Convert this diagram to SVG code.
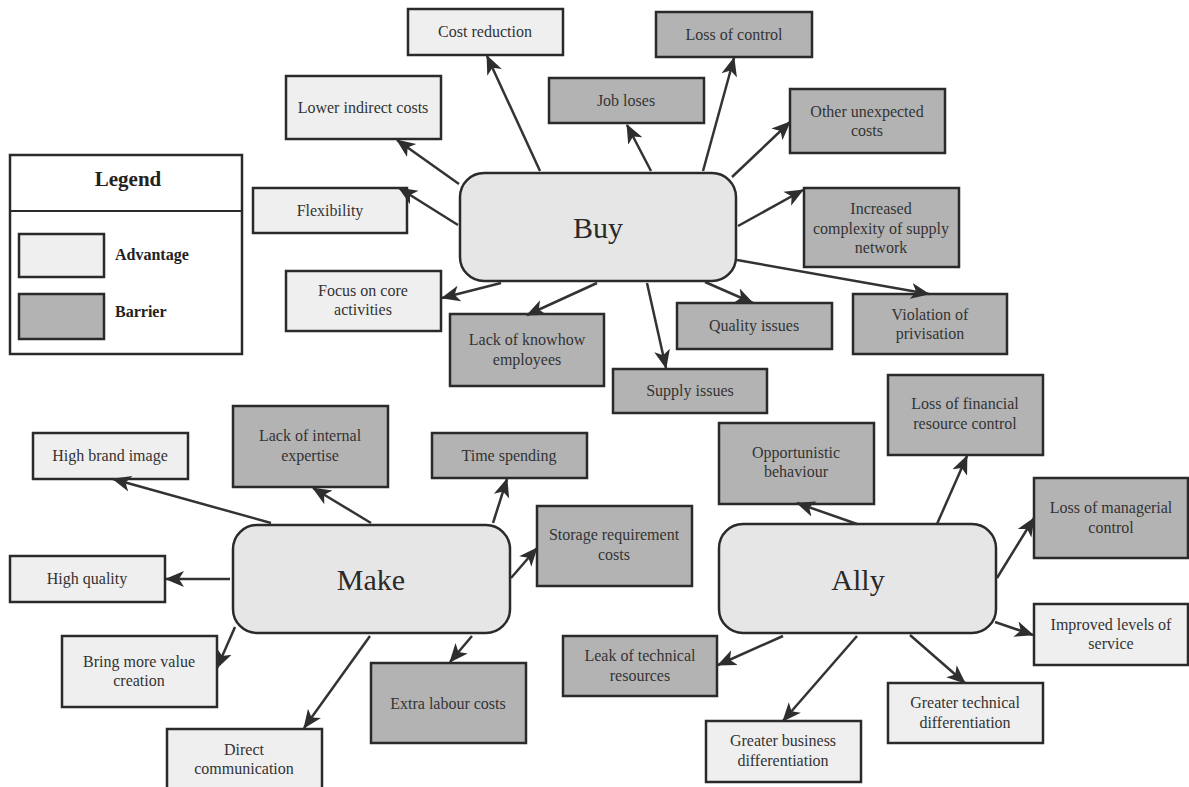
<svg xmlns="http://www.w3.org/2000/svg" width="1189" height="787" viewBox="0 0 1189 787">
  <defs>
    <marker id="arrow" markerUnits="userSpaceOnUse" markerWidth="19" markerHeight="18" viewBox="0 0 19 18" refX="18" refY="9" orient="auto">
      <path d="M0,1 L19,9 L0,17 L5,9 Z" fill="#2e2e2e"/>
    </marker>
  </defs>
  <style>
    .adv { fill: #efefef; stroke: #2a2a2a; stroke-width: 2.5; }
    .bar { fill: #b3b3b3; stroke: #2a2a2a; stroke-width: 2.5; }
    .hub { fill: #e6e6e6; stroke: #2a2a2a; stroke-width: 2.5; }
    .lbl { font-family: "Liberation Serif", "Times New Roman", serif; font-size: 16px; fill: #333; text-anchor: middle; }
    .hubl { font-family: "Liberation Serif", "Times New Roman", serif; font-size: 30px; fill: #2a2a2a; text-anchor: middle; }
    .leg { font-family: "Liberation Serif", "Times New Roman", serif; font-weight: bold; fill: #222; }
    .con line { stroke: #333; stroke-width: 2.5; fill: none; marker-end: url(#arrow); }
  </style>
  <rect width="1189" height="787" fill="#ffffff"/>

  <!-- Legend -->
  <g id="legend">
    <rect x="10" y="155" width="232" height="199" fill="#ffffff" stroke="#2a2a2a" stroke-width="2.5"/>
    <line x1="10" y1="211" x2="242" y2="211" stroke="#2a2a2a" stroke-width="2"/>
    <text class="leg" x="128" y="186" font-size="21" text-anchor="middle">Legend</text>
    <rect class="adv" x="19" y="234" width="85" height="43"/>
    <text class="leg" x="115" y="260" font-size="16">Advantage</text>
    <rect class="bar" x="19" y="294" width="85" height="45"/>
    <text class="leg" x="115" y="317" font-size="16">Barrier</text>
  </g>

  <!-- Hubs -->
  <g id="buy">
    <rect class="hub" x="460" y="173" width="276" height="108" rx="24"/>
    <text class="hubl" x="598" y="238">Buy</text>
  </g>
  <g id="make">
    <rect class="hub" x="233" y="525" width="277" height="108" rx="24"/>
    <text class="hubl" x="371" y="590">Make</text>
  </g>
  <g id="ally">
    <rect class="hub" x="719" y="524" width="277" height="109" rx="24"/>
    <text class="hubl" x="858" y="590">Ally</text>
  </g>

  <!-- Buy outcomes -->
  <g id="cost-reduction"><rect class="adv" x="408" y="9" width="155" height="46"/><text class="lbl" x="485" y="37">Cost reduction</text></g>
  <g id="lower-indirect-costs"><rect class="adv" x="286" y="76" width="155" height="63"/><text class="lbl" x="363" y="113">Lower indirect costs</text></g>
  <g id="flexibility"><rect class="adv" x="253" y="188" width="154" height="45"/><text class="lbl" x="330" y="216">Flexibility</text></g>
  <g id="focus-core"><rect class="adv" x="286" y="271" width="155" height="60"/><text class="lbl" x="363" y="296">Focus on core</text><text class="lbl" x="363" y="315">activities</text></g>
  <g id="lack-knowhow"><rect class="bar" x="450" y="314" width="154" height="72"/><text class="lbl" x="527" y="345">Lack of knowhow</text><text class="lbl" x="527" y="365">employees</text></g>
  <g id="supply-issues"><rect class="bar" x="613" y="369" width="154" height="44"/><text class="lbl" x="690" y="396">Supply issues</text></g>
  <g id="quality-issues"><rect class="bar" x="677" y="303" width="155" height="46"/><text class="lbl" x="754" y="331">Quality issues</text></g>
  <g id="violation"><rect class="bar" x="853" y="294" width="154" height="60"/><text class="lbl" x="930" y="320">Violation of</text><text class="lbl" x="930" y="339">privisation</text></g>
  <g id="complexity"><rect class="bar" x="804" y="188" width="155" height="79"/><text class="lbl" x="881" y="214">Increased</text><text class="lbl" x="881" y="234">complexity of supply</text><text class="lbl" x="881" y="253">network</text></g>
  <g id="unexpected-costs"><rect class="bar" x="790" y="89" width="155" height="64"/><text class="lbl" x="867" y="117">Other unexpected</text><text class="lbl" x="867" y="136">costs</text></g>
  <g id="loss-control"><rect class="bar" x="656" y="12" width="156" height="45"/><text class="lbl" x="734" y="40">Loss of control</text></g>
  <g id="job-loses"><rect class="bar" x="549" y="78" width="155" height="45"/><text class="lbl" x="626" y="106">Job loses</text></g>

  <!-- Make outcomes -->
  <g id="brand-image"><rect class="adv" x="33" y="433" width="155" height="46"/><text class="lbl" x="110" y="461">High brand image</text></g>
  <g id="internal-expertise"><rect class="bar" x="233" y="406" width="155" height="81"/><text class="lbl" x="310" y="441">Lack of internal</text><text class="lbl" x="310" y="461">expertise</text></g>
  <g id="time-spending"><rect class="bar" x="432" y="433" width="155" height="45"/><text class="lbl" x="509" y="461">Time spending</text></g>
  <g id="storage-costs"><rect class="bar" x="537" y="506" width="155" height="80"/><text class="lbl" x="614" y="540">Storage requirement</text><text class="lbl" x="614" y="560">costs</text></g>
  <g id="high-quality"><rect class="adv" x="10" y="556" width="155" height="46"/><text class="lbl" x="87" y="584">High quality</text></g>
  <g id="value-creation"><rect class="adv" x="62" y="636" width="155" height="71"/><text class="lbl" x="139" y="667">Bring more value</text><text class="lbl" x="139" y="686">creation</text></g>
  <g id="direct-communication"><rect class="adv" x="167" y="729" width="155" height="75"/><text class="lbl" x="244" y="755">Direct</text><text class="lbl" x="244" y="774">communication</text></g>
  <g id="extra-labour"><rect class="bar" x="371" y="663" width="155" height="80"/><text class="lbl" x="448" y="709">Extra labour costs</text></g>

  <!-- Ally outcomes -->
  <g id="opportunistic"><rect class="bar" x="719" y="423" width="155" height="81"/><text class="lbl" x="796" y="458">Opportunistic</text><text class="lbl" x="796" y="477">behaviour</text></g>
  <g id="financial-control"><rect class="bar" x="888" y="375" width="155" height="80"/><text class="lbl" x="965" y="409">Loss of financial</text><text class="lbl" x="965" y="429">resource control</text></g>
  <g id="managerial-control"><rect class="bar" x="1034" y="478" width="154" height="80"/><text class="lbl" x="1111" y="513">Loss of managerial</text><text class="lbl" x="1111" y="533">control</text></g>
  <g id="service-levels"><rect class="adv" x="1034" y="604" width="154" height="61"/><text class="lbl" x="1111" y="630">Improved levels of</text><text class="lbl" x="1111" y="649">service</text></g>
  <g id="technical-diff"><rect class="adv" x="888" y="683" width="155" height="60"/><text class="lbl" x="965" y="708">Greater technical</text><text class="lbl" x="965" y="728">differentiation</text></g>
  <g id="business-diff"><rect class="adv" x="706" y="721" width="155" height="61"/><text class="lbl" x="783" y="746">Greater business</text><text class="lbl" x="783" y="766">differentiation</text></g>
  <g id="technical-leak"><rect class="bar" x="563" y="636" width="154" height="60"/><text class="lbl" x="640" y="661">Leak of technical</text><text class="lbl" x="640" y="681">resources</text></g>

  <!-- Connectors -->
  <g id="connectors" class="con">
    <line x1="540" y1="171" x2="487" y2="56"/>
    <line x1="459" y1="184" x2="397" y2="140"/>
    <line x1="458" y1="225" x2="399" y2="188"/>
    <line x1="501" y1="283" x2="442" y2="298"/>
    <line x1="597" y1="283" x2="527" y2="315"/>
    <line x1="647" y1="283" x2="666" y2="368"/>
    <line x1="705" y1="282" x2="753" y2="303"/>
    <line x1="737" y1="260" x2="929" y2="294"/>
    <line x1="738" y1="226" x2="803" y2="190"/>
    <line x1="732" y1="177" x2="790" y2="122"/>
    <line x1="703" y1="171" x2="734" y2="58"/>
    <line x1="651" y1="171" x2="627" y2="125"/>

    <line x1="271" y1="523" x2="113" y2="479"/>
    <line x1="371" y1="523" x2="313" y2="488"/>
    <line x1="493" y1="523" x2="507" y2="479"/>
    <line x1="511" y1="578" x2="537" y2="548"/>
    <line x1="472" y1="636" x2="450" y2="662"/>
    <line x1="370" y1="636" x2="304" y2="728"/>
    <line x1="235" y1="627" x2="217" y2="668"/>
    <line x1="230" y1="579" x2="166" y2="579"/>

    <line x1="857" y1="524" x2="797" y2="503"/>
    <line x1="937" y1="524" x2="967" y2="456"/>
    <line x1="997" y1="578" x2="1034" y2="518"/>
    <line x1="995" y1="622" x2="1033" y2="635"/>
    <line x1="910" y1="635" x2="965" y2="683"/>
    <line x1="857" y1="636" x2="783" y2="721"/>
    <line x1="783" y1="636" x2="718" y2="665"/>
  </g>
</svg>
